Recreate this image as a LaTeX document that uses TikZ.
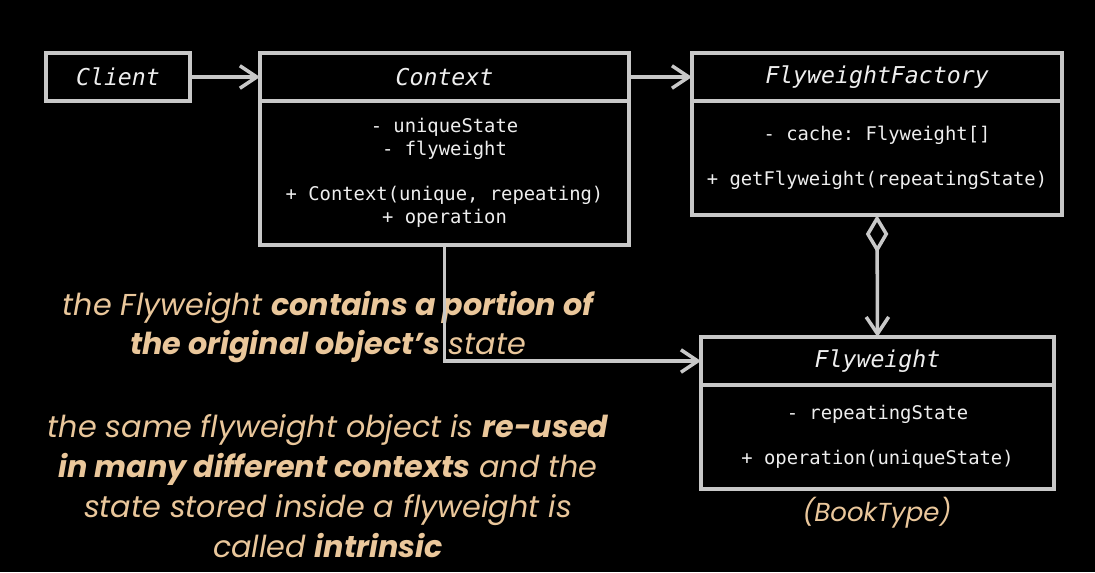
\documentclass[tikz,border=0pt]{standalone}
\usepackage{fontspec}
\setmonofont{DejaVu Sans Mono}
\newfontfamily\notefont{Poppins}
\usetikzlibrary{positioning, arrows.meta}
\definecolor{umlgray}{RGB}{200,200,200}
\definecolor{umltext}{RGB}{238,238,238}
\definecolor{notetan}{RGB}{234,199,155}

\begin{document}
\begin{tikzpicture}[
    x = 0.025cm, y = -0.025cm,
    headbox/.style = {
      rectangle, draw = umlgray, line width = 2.5pt, outer sep = 0pt,
      minimum height = 1.2cm, text = umltext,
      font = \fontsize{16.5}{20}\selectfont\ttfamily\itshape
    },
    bodybox/.style = {
      rectangle, draw = umlgray, line width = 2.5pt, outer sep = 0pt,
      align = center, text = umltext,
      font = \fontsize{13.4}{16.1}\selectfont\ttfamily
    },
    note/.style = {
      align = center, text = notetan,
      font = \fontsize{21.5}{28.35}\selectfont\notefont\itshape
    },
    arr/.style  = {-{Straight Barb[length=12pt, width=16pt]}, draw = umlgray, line width = 2.5pt},
    aggr/.style = {{Diamond[open, length=27pt, width=16pt]}-{Straight Barb[length=12pt, width=16pt]},
                   draw = umlgray, line width = 2.5pt}
  ]

  % Fondo
  \fill[black] (0,0) rectangle (1095,572);
  \useasboundingbox (0,0) rectangle (1095,572);

  % Notas
  \node[note] (portion) at (328,327)
    {the Flyweight \textbf{contains a portion of}\\\textbf{the original object’s} state};
  \node[note] (intrinsic) at (328,486)
    {the same flyweight object is \textbf{re-used}\\\textbf{in many different contexts} and the\\
     state stored inside a flyweight is\\called \textbf{intrinsic}};

  % Clases
  \node[headbox, minimum width = 3.6cm]   (client)  at (118,77)   {Client};
  \node[headbox, minimum width = 9.225cm] (ctx)     at (444.5,77) {Context};
  \node[bodybox, minimum width = 9.225cm, minimum height = 3.6cm, below = 0pt of ctx] (ctxbody)
    {- uniqueState\\- flyweight\\[16.1pt]+ Context(unique, repeating)\\+ operation};

  \node[headbox, minimum width = 9.25cm]  (factory) at (877,77)   {FlyweightFactory};
  \node[bodybox, minimum width = 9.25cm, minimum height = 2.85cm, below = 0pt of factory] (factorybody)
    {- cache: Flyweight[]\\[16.1pt]+ getFlyweight(repeatingState)};

  \node[headbox, minimum width = 8.825cm] (fly)     at (877.5,361) {Flyweight};
  \node[bodybox, minimum width = 8.825cm, minimum height = 2.6cm, below = 0pt of fly] (flybody)
    {- repeatingState\\[16.1pt]+ operation(uniqueState)};

  \node[note, font = \fontsize{18.5}{22}\selectfont\notefont\itshape] (booktype) at (877,513) {(BookType)};

  % Conexiones
  \draw[arr]  (client) -- (ctx);
  \draw[arr]  (ctx) -- (factory);
  \draw[aggr] (factorybody.south) -- (fly.north);
  \draw[arr]  (ctxbody.south) |- (fly.west);

\end{tikzpicture}
\end{document}
